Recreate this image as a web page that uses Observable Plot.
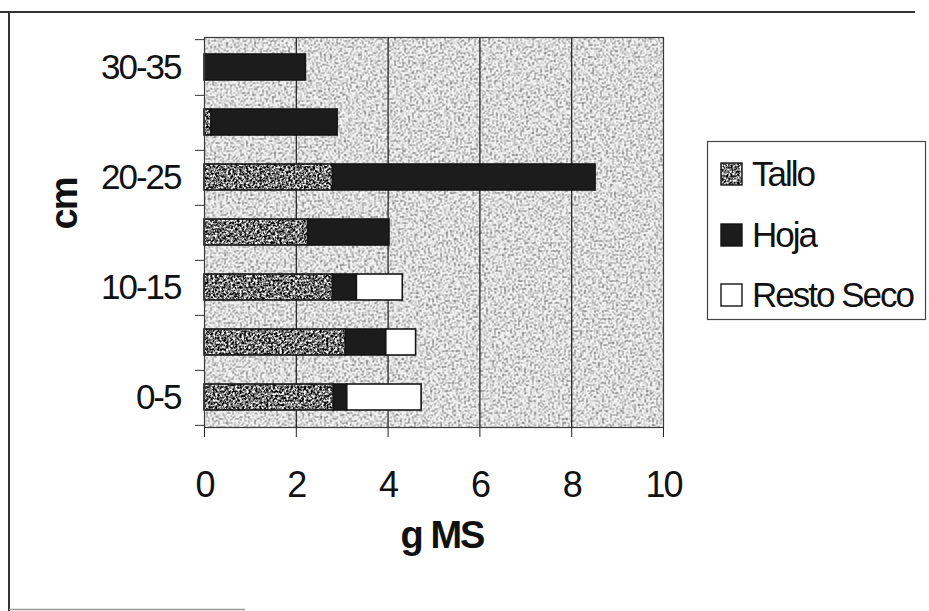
<!DOCTYPE html>
<html>
<head>
<meta charset="utf-8">
<script src="https://cdn.jsdelivr.net/npm/d3@7"></script>
<script src="https://cdn.jsdelivr.net/npm/@observablehq/plot@0.6"></script>
<style>
  html, body { margin: 0; padding: 0; background: #fff; }
  #chart svg text { letter-spacing: -2px; }
</style>
</head>
<body>
<div id="chart"></div>
<script>
// Depth classes (cm), bottom to top
const categories = ["0-5", "5-10", "10-15", "15-20", "20-25", "25-30", "30-35"];
const labelledCategories = ["0-5", "10-15", "20-25", "30-35"];
const parts = ["Tallo", "Hoja", "Resto Seco"];

// Dry matter (g MS) per depth class
const tallo     = [2.82, 3.08, 2.80, 2.26, 2.80, 0.15, 0.00];
const hoja      = [0.29, 0.88, 0.52, 1.77, 5.72, 2.75, 2.21];
const restoSeco = [1.62, 0.65, 1.00, 0.00, 0.00, 0.00, 0.00];

const xTicks = [0, 2, 4, 6, 8, 10];
const gridTicks = [2, 4, 6, 8];

const series = [tallo, hoja, restoSeco];
const records = categories.flatMap((cat, i) =>
  parts.map((part, j) => ({cat, part, value: series[j][i]}))
).filter(d => d.value > 0);

const W = 929, H = 611;
const mL = 204, mR = 266, mT = 37, mB = 184;
const step = (H - mT - mB) / categories.length;
const font = '"Liberation Sans", Arial, sans-serif';

const chart = Plot.plot({
  width: W,
  height: H,
  marginLeft: mL,
  marginRight: mR,
  marginTop: mT,
  marginBottom: mB,
  style: {fontFamily: font, fontSize: "36px", color: "#111", background: "white", overflow: "visible"},
  x: {domain: [0, 10]},
  y: {domain: categories.slice().reverse(), paddingInner: 0.53, paddingOuter: 0.265},
  color: {domain: parts, range: ["url(#talloFill)", "#1c1c1c", "#ffffff"]},
  marks: [
    Plot.frame({fill: "url(#plotFill)", stroke: null}),
    Plot.ruleX(gridTicks, {stroke: "#1a1a1a", strokeWidth: 1.2}),
    Plot.barX(records, Plot.stackX({x: "value", y: "cat", fill: "part", stroke: "#151515", strokeWidth: 1.6})),
    Plot.frame({stroke: "#3a3a3a", strokeWidth: 1.2}),
    Plot.axisX({ticks: xTicks, tickSize: 10, tickPadding: 34, stroke: "#222", label: null, fontSize: 36}),
    Plot.axisY({ticks: labelledCategories, tickSize: 0, tickPadding: 24, label: null, fontSize: 35}),
    Plot.axisY({text: null, tickSize: 9, dy: step / 2, stroke: "#333", label: null}),
    Plot.axisY({ticks: [categories[categories.length - 1]], text: null, tickSize: 9, dy: -step / 2, stroke: "#333", label: null}),
    Plot.text(["g MS"], {text: d => d, frameAnchor: "bottom", dx: 8, dy: 120, fontWeight: "bold", fontSize: 38}),
    Plot.text(["cm"], {text: d => d, frameAnchor: "left", rotate: -90, dx: -140, dy: -3, fontWeight: "bold", fontSize: 38})
  ]
});

const svg = d3.select(chart);

// Stippled fills for the plot background and the "Tallo" segments
const defs = svg.insert("defs", ":first-child");
function grain(id, slope, base, freq, seed) {
  const f = defs.append("filter")
    .attr("id", id).attr("x", 0).attr("y", 0).attr("width", "100%").attr("height", "100%")
    .attr("color-interpolation-filters", "sRGB");
  f.append("feTurbulence").attr("type", "fractalNoise").attr("baseFrequency", freq)
    .attr("numOctaves", 2).attr("seed", seed).attr("result", "noise");
  const b = base - 0.5 * slope;
  f.append("feColorMatrix").attr("in", "noise").attr("type", "matrix")
    .attr("values", `${slope} 0 0 0 ${b}  ${slope} 0 0 0 ${b}  ${slope} 0 0 0 ${b}  0 0 0 0 1`);
}
grain("grainBg", 1.8, 0.87, 0.5, 4);
grain("grainTallo", 2.6, 0.46, 0.45, 9);
function patternFill(id, filterId) {
  const p = defs.append("pattern").attr("id", id)
    .attr("patternUnits", "userSpaceOnUse").attr("width", W).attr("height", H);
  p.append("rect").attr("width", W).attr("height", H).attr("filter", `url(#${filterId})`);
}
patternFill("plotFill", "grainBg");
patternFill("talloFill", "grainTallo");

// Legend
const color = chart.scale("color");
const fillOf = d3.scaleOrdinal(color.domain, color.range);
const lg = svg.append("g").attr("font-family", font).attr("font-size", 35).attr("text-anchor", "start");
lg.append("rect").attr("x", 707.5).attr("y", 141.5).attr("width", 218).attr("height", 178)
  .attr("fill", "white").attr("stroke", "#444").attr("stroke-width", 1.2);
const rowY = [163, 224, 284];
parts.forEach((p, i) => {
  lg.append("rect").attr("x", 721).attr("y", rowY[i]).attr("width", 21).attr("height", 22)
    .attr("fill", fillOf(p)).attr("stroke", "#151515").attr("stroke-width", 1.4);
  lg.append("text").attr("x", 752).attr("y", rowY[i] + 22.5).attr("fill", "#111")
    .attr("text-anchor", "start").text(p);
});

// Outer border of the chart area
const border = svg.append("g").attr("fill", "none").attr("stroke", "#333");
border.append("line").attr("x1", 0).attr("x2", 915).attr("y1", 12).attr("y2", 12).attr("stroke-width", 2);
border.append("line").attr("x1", 9).attr("x2", 9).attr("y1", 12).attr("y2", 611).attr("stroke-width", 2);
border.append("line").attr("x1", 9).attr("x2", 245).attr("y1", 609.5).attr("y2", 609.5).attr("stroke-width", 1.5).attr("stroke", "#999");

document.getElementById("chart").appendChild(chart);
</script>
</body>
</html>
